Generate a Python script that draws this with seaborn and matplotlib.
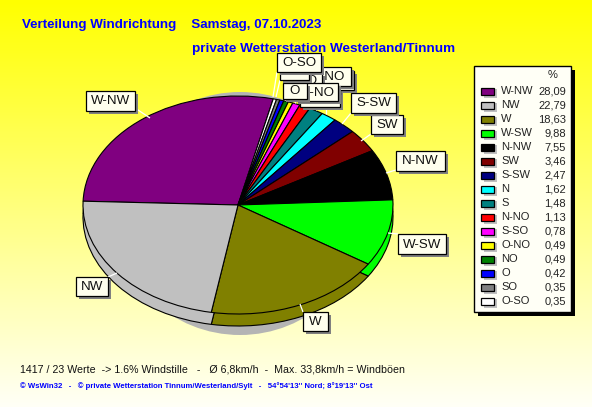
import numpy as np
import matplotlib
matplotlib.use("Agg")
import matplotlib.pyplot as plt
from matplotlib.patches import Rectangle, Ellipse
from matplotlib.colors import LinearSegmentedColormap
import seaborn as sns

legend_names = ["W-NW", "NW", "W", "W-SW", "N-NW", "SW", "S-SW", "N", "S", "N-NO", "S-SO", "O-NO", "NO", "O", "SO", "O-SO"]
legend_values = [28.09, 22.79, 18.63, 9.88, 7.55, 3.46, 2.47, 1.62, 1.48, 1.13, 0.78, 0.49, 0.49, 0.42, 0.35, 0.35]
legend_colors = ["#800080", "#C0C0C0", "#808000", "#00FF00", "#000000", "#800000", "#000080", "#00FFFF",
                 "#008080", "#FF0000", "#FF00FF", "#FFFF00", "#008000", "#0000FF", "#808080", "#FFFFFF"]
# clockwise order of the slices, starting at W-NW
slice_order = ["W-NW", "O-SO", "SO", "O", "NO", "O-NO", "S-SO", "N-NO", "S", "N", "S-SW", "SW", "N-NW", "W-SW", "W", "NW"]

title1 = "Verteilung Windrichtung    Samstag, 07.10.2023"
title2 = "private Wetterstation Westerland/Tinnum"
foot1 = "1417 / 23 Werte  -> 1.6% Windstille   -   Ø 6,8km/h  -  Max. 33,8km/h = Windböen"
foot2 = "© WsWin32   -   © private Wetterstation Tinnum/Westerland/Sylt   -   54°54'13'' Nord; 8°19'13'' Ost"

# label boxes in draw order: text, x0, y0, x1, y1, leader start x, y, leader end x, y
boxes = [
    ("W-NW", 86, 91, 135, 111, 135, 108, 150, 118),
    ("NW", 76, 277, 108, 296, 108, 277, 117, 273),
    ("W", 303, 312, 328, 331, 303, 312, 300, 304),
    ("W-SW", 398, 234, 446, 254, 398, 234, 388, 233),
    ("N-NW", 396, 151, 445, 171, 396, 170, 386, 173),
    ("SW", 371, 115, 403, 134, 371, 134, 361, 141),
    ("S-SW", 351, 93, 396, 113, 351, 113, 342, 124),
    ("N", 326, 71, 354, 90, 326, 90, 326, 114),
    ("S", 316, 90, 340, 106, 316, 106, 316, 110),
    ("S-SO", 300, 92, 340, 107, 301, 107, 301, 107),
    ("N-NO", 305, 67, 351, 86, 305, 86, 300, 104),
    ("NO", 293, 73, 322, 88, 293, 88, 289, 99),
    ("O-NO", 295, 83, 338, 101, 295, 101, 295, 103),
    ("O", 283, 83, 307, 99, 285, 99, 285, 100),
    ("SO", 280, 61, 309, 80, 280, 80, 276, 97),
    ("O-SO", 277, 53, 321, 72, 277, 72, 273, 97),
]

W, H = 592, 407
CX, CY, RX, RY, DEPTH = 238, 205, 155, 109, 12

sns.set_theme(style="white")
plt.rcParams["font.family"] = ["Liberation Sans", "DejaVu Sans"]
fig = plt.figure(figsize=(W / 100, H / 100), dpi=100)

# background gradient
bg = fig.add_axes([0, 0, 1, 1], zorder=0)
grad = np.linspace(0, 1, H)[:, None]
cmap = LinearSegmentedColormap.from_list("bg", ["#FFFF00", "#FFFFF6"])
bg.imshow(grad, aspect="auto", cmap=cmap, extent=(0, W, H, 0))
bg.set_xlim(0, W); bg.set_ylim(H, 0); bg.axis("off")
bg.add_patch(Ellipse((CX + 2, CY + 8.5), 250, 243, fc="#B4B4B4", ec="none"))

# pie
lookup = dict(zip(legend_names, legend_values))
color_of = dict(zip(legend_names, sns.color_palette(legend_colors, len(legend_colors))))
vals = [lookup[n] for n in slice_order]
cols = [color_of[n] for n in slice_order]
ax = fig.add_axes([0, 0, 1, 1], zorder=1)
ax.patch.set_alpha(0)
kw = dict(colors=cols, startangle=178, counterclock=False,
          wedgeprops=dict(edgecolor="black", linewidth=0.8))
ax.pie(vals, center=(0, -DEPTH / RY), **kw)
ax.pie(vals, center=(0, 0), **kw)
ax.set_aspect("auto")
ax.set_xlim(-CX / RX, (W - CX) / RX)
ax.set_ylim((CY - H) / RY, CY / RY)
ax.axis("off")

# overlay in pixel coordinates
ov = fig.add_axes([0, 0, 1, 1], zorder=2)
ov.patch.set_alpha(0)
ov.set_xlim(0, W); ov.set_ylim(H, 0); ov.axis("off")

z = 3
for t, x0, y0, x1, y1, sx, sy, lx, ly in boxes:
    ov.plot([sx, lx], [sy, ly], color="white", lw=0.9, zorder=2, solid_capstyle="butt")
    ov.add_patch(Rectangle((x0 + 3, y0 + 3), x1 - x0, y1 - y0, fc="#808080", ec="none", zorder=z))
    ov.add_patch(Rectangle((x0, y0), x1 - x0, y1 - y0, fc="#FFFFEE", ec="black", lw=0.9, zorder=z + 0.1))
    ov.text((x0 + x1) / 2, (y0 + y1) / 2 + 0.5, t, ha="center", va="center", fontsize=9.6,
            color="#111111", zorder=z + 0.2)
    z += 1

# legend
lz = 40
ov.add_patch(Rectangle((478, 70), 97, 246, fc="black", ec="none", zorder=lz))
ov.add_patch(Rectangle((474, 66), 97, 246, fc="#FFFFF6", ec="black", lw=1, zorder=lz + 1))
ov.text(553, 75, "%", ha="center", va="center", fontsize=8, color="#222222", zorder=lz + 2)
for i, (n, v, c) in enumerate(zip(legend_names, legend_values, legend_colors)):
    y = 91 + i * 14
    ov.add_patch(Rectangle((484, y - 2), 13, 9, fc="#C0C0C0", ec="none", zorder=lz + 1.5))
    ov.add_patch(Rectangle((481, y - 3.5), 12.5, 7, fc=c, ec="black", lw=0.9, zorder=lz + 2))
    ov.text(501, y, n, ha="left", va="center", fontsize=8, color="#222222", zorder=lz + 2)
    ov.text(566, y, f"{v:.2f}".replace(".", ","), ha="right", va="center", fontsize=8,
            color="#222222", zorder=lz + 2)

# titles and footers
ov.text(22, 25, title1, color="#0000FF", fontsize=9.6, fontweight="bold", va="center", ha="left", zorder=lz)
ov.text(192, 49, title2, color="#0000FF", fontsize=9.7, fontweight="bold", va="center", ha="left", zorder=lz)
ov.text(20, 369, foot1, color="#111111", fontsize=7.7, va="center", ha="left", zorder=lz)
ov.text(20, 386, foot2, color="#0000FF", fontsize=5.55, fontweight="bold", va="center", ha="left", zorder=lz)

fig.savefig("out.png", dpi=100)
